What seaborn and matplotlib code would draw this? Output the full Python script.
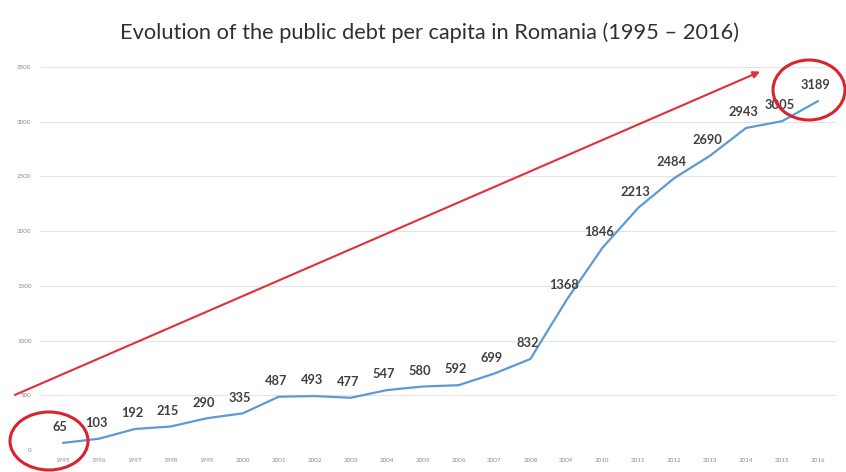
import matplotlib
matplotlib.use("Agg")
import matplotlib.pyplot as plt
from matplotlib.patches import Ellipse
import seaborn as sns
import pandas as pd

years = [1995, 1996, 1997, 1998, 1999, 2000, 2001, 2002, 2003, 2004, 2005,
         2006, 2007, 2008, 2009, 2010, 2011, 2012, 2013, 2014, 2015, 2016]
debt_per_capita = [65, 103, 192, 215, 290, 335, 487, 493, 477, 547, 580,
                   592, 699, 832, 1368, 1846, 2213, 2484, 2690, 2943, 3005, 3189]
y_ticks = [0, 500, 1000, 1500, 2000, 2500, 3000, 3500]
title = "Evolution of the public debt per capita in Romania (1995 \u2013 2016)"

# Trend arrow drawn over the series (start and end in data units)
trend_start = (-1.34, 503)
trend_end = (19.39, 3458)

sns.set_theme(style="white")
plt.rcParams["font.family"] = ["Lato", "DejaVu Sans"]

W, H = 846, 472
fig = plt.figure(figsize=(W / 100, H / 100), dpi=100)
ax = fig.add_axes([40 / W, 1 - 450 / H, 796 / W, (450 - 67) / H])

df = pd.DataFrame({"pos": range(len(years)), "year": years, "debt": debt_per_capita})
sns.lineplot(data=df, x="pos", y="debt", ax=ax, color="#5b9bd5", linewidth=1.6)

for p, v in zip(df["pos"], df["debt"]):
    ax.annotate(str(v), (p, v), xytext=(-2, 7), textcoords="offset points",
                ha="center", va="bottom", fontsize=9.3, fontweight="bold",
                color="#404040")

ax.set_xlim(-0.64, 21.5)
ax.set_ylim(0, 3500)
ax.set_yticks(y_ticks)
ax.set_yticklabels([str(t) for t in y_ticks], fontsize=4.5, color="#8a8a8a")
ax.set_xticks(df["pos"])
ax.set_xticklabels([str(y) for y in years], fontsize=4.5, color="#8a8a8a")
ax.tick_params(axis="both", length=0, pad=6)
ax.set_xlabel("")
ax.set_ylabel("")
ax.grid(axis="y", color="#e4e4e4", linewidth=0.8)
ax.set_axisbelow(True)
for s in ax.spines.values():
    s.set_visible(False)

ax.annotate("", xy=trend_end, xytext=trend_start, annotation_clip=False,
            arrowprops=dict(arrowstyle="-|>", color="#e0303a", lw=1.5,
                            mutation_scale=10, shrinkA=0, shrinkB=0))

for cx, cy, w, h in [(49, 441, 78, 58), (809, 90, 72, 60)]:
    fig.add_artist(Ellipse((cx / W, 1 - cy / H), w / W, h / H,
                           transform=fig.transFigure, fill=False,
                           edgecolor="#d9232e", linewidth=2.2))

fig.text(430 / W, 1 - 33 / H, title, ha="center", va="center",
         fontsize=15.7, color="#303030")

fig.savefig("out.png", dpi=100)
